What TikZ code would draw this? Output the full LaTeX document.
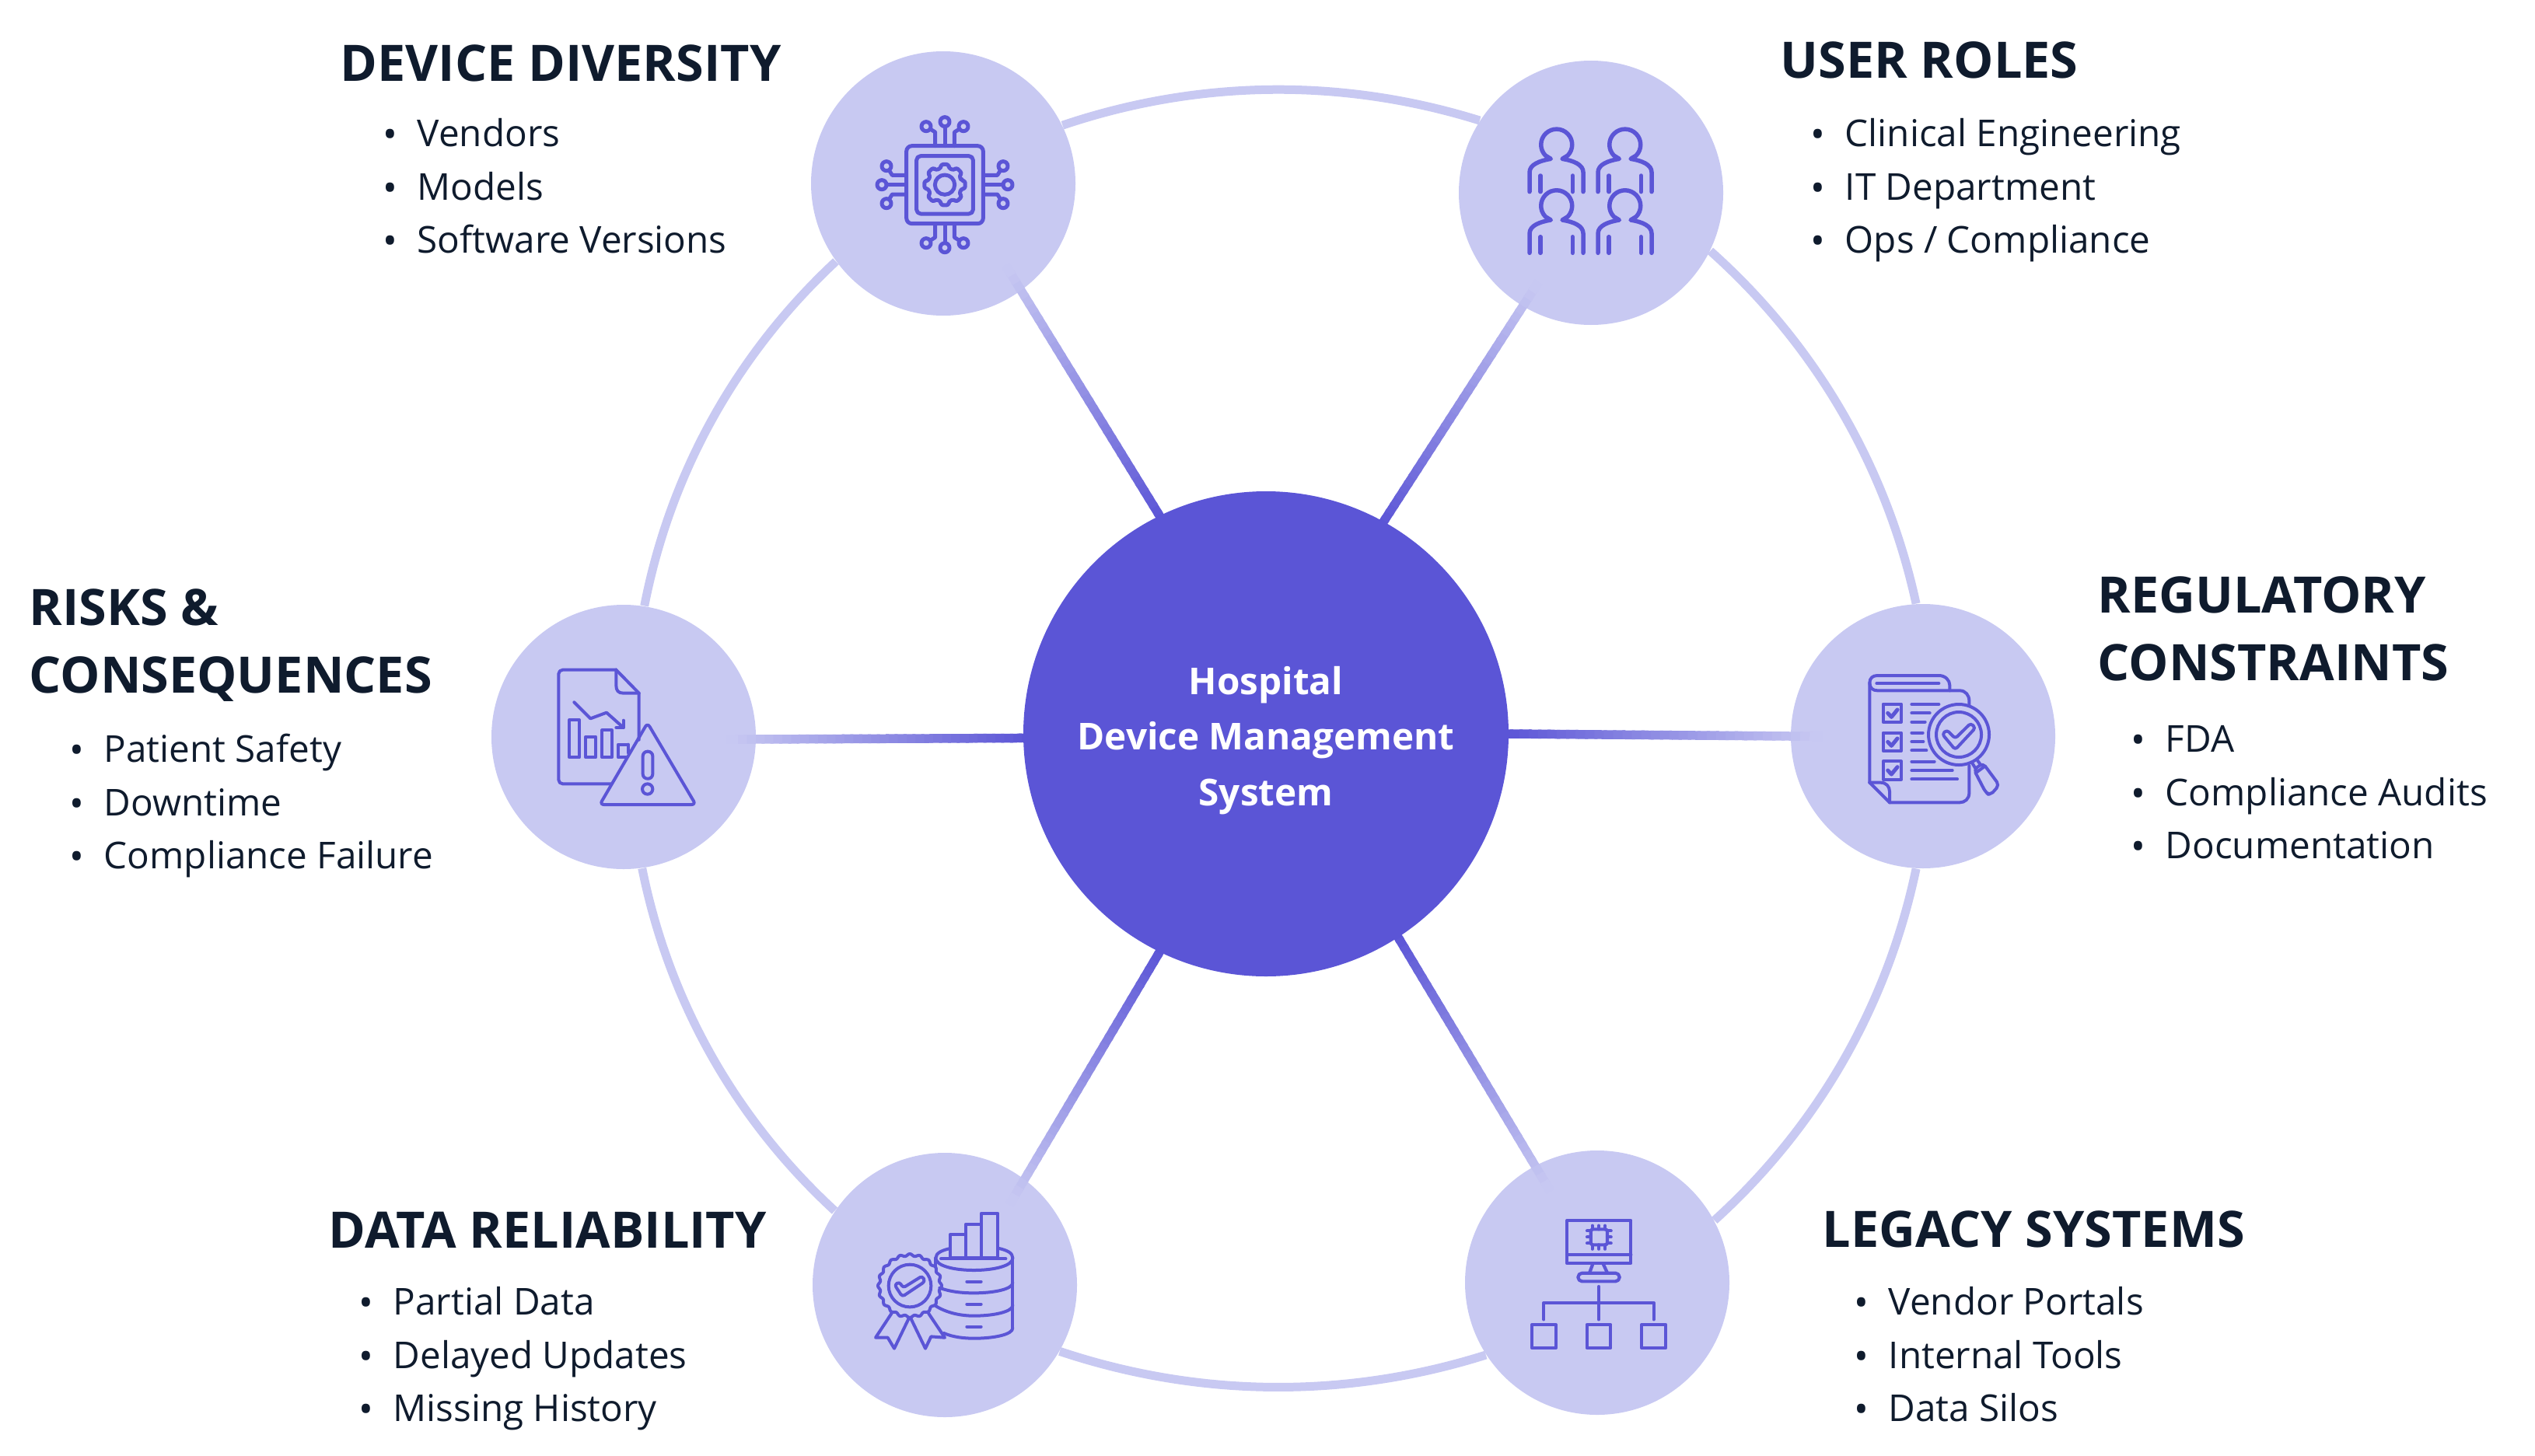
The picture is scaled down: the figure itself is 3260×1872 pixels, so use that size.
\documentclass[tikz,border=0pt]{standalone}
\usepackage{fontspec}
\usepackage{tikz}
\usetikzlibrary{positioning,calc}
\setmainfont{Open Sans}
\definecolor{hubcol}{HTML}{5B55D6}
\definecolor{satcol}{HTML}{C8C9F2}
\definecolor{inkcol}{HTML}{0F1B2D}
\newcommand{\bulletrow}[1]{\rule{0pt}{4mm}\makebox[7mm][c]{\raisebox{-.2mm}{\scalebox{1.05}{\textbullet}}}#1}

\begin{document}
\begin{tikzpicture}[
        x=.1mm, y=-.1mm,
        hubnode/.style={circle, fill=hubcol, inner sep=0pt, minimum size=62.4mm, text=white, align=center,
            font=\fontsize{13.55}{20.4}\selectfont\bfseries},
        sat/.style={circle, fill=satcol, inner sep=0pt, minimum size=34mm},
        ringline/.style={draw=satcol, line width=1.1mm, bend left=18, looseness=.88},
        titlebox/.style={inner sep=0pt, anchor=south west, align=left, text=inkcol,
            font=\fontsize{18.4}{24.7}\selectfont\bfseries},
        listbox/.style={inner sep=0pt, align=left, text=inkcol, font=\fontsize{13.55}{19.5}\selectfont},
        icon/.style={x=.0333333mm, y=-.0333333mm},
        iconline/.style={draw=hubcol, line width=.5mm, line join=round, line cap=round},
        thinline/.style={draw=hubcol, line width=.4mm, line join=round, line cap=round},
        midline/.style={draw=hubcol, line width=.42mm, line join=round, line cap=round}
    ]
        \useasboundingbox (0,0) rectangle (3260,1872);

        % circles
        \node[hubnode] (hub) at (1628,944) {\rule{0pt}{5.3mm}Hospital\\Device Management\\System};
        \node[sat] (device) at (1213,236) {};
        \node[sat] (users) at (2046,248) {};
        \node[sat] (regulatory) at (2473,947) {};
        \node[sat] (legacy) at (2054,1650) {};
        \node[sat] (reliability) at (1215,1653) {};
        \node[sat] (risks) at (802,948) {};

        % outer ring
        \draw[ringline] (device.26) to (users.147);
        \draw[ringline] (users.-26) to (regulatory.93);
        \draw[ringline] (regulatory.267) to (legacy.28);
        \draw[ringline] (legacy.213) to (reliability.-30);
        \draw[ringline] (reliability.146) to (risks.-82);
        \draw[ringline] (risks.81.5) to (device.216.6);

        % spokes, dark at the hub
        \foreach \a/\b in {hub.116/device.-54, hub.61/users.-121, hub.0/regulatory.180,
                hub.-57.6/legacy.118, hub.-116/reliability.53, hub.181/risks.-1} {
            \foreach \p in {100,97,...,1} {
                \pgfmathsetmacro\t{-.03+1.11*(1-\p/100)}
                \pgfmathsetmacro\u{\t+.045}
                \draw[draw=hubcol!\p!satcol, line width=1.15mm] ($(\a)!\t!(\b)$) -- ($(\a)!\u!(\b)$);
            }
        }

        % titles and lists
        \node[titlebox] (devicetitle) at (437,106) {DEVICE DIVERSITY};
        \node[listbox, below right=4.2mm and 2.9mm of devicetitle.south west] (devicelist)
            {\bulletrow{Vendors}\\\bulletrow{Models}\\\bulletrow{Software Versions}};
        \node[titlebox] (userstitle) at (2289,102) {USER ROLES};
        \node[listbox, below right=4.6mm and 1.3mm of userstitle.south west] (userslist)
            {\bulletrow{Clinical Engineering}\\\bulletrow{IT Department}\\\bulletrow{Ops / Compliance}};
        \node[titlebox] (riskstitle) at (37,903) {RISKS \&\\CONSEQUENCES};
        \node[listbox, below right=3.7mm and 2.6mm of riskstitle.south west] (riskslist)
            {\bulletrow{Patient Safety}\\\bulletrow{Downtime}\\\bulletrow{Compliance Failure}};
        \node[titlebox] (regulatorytitle) at (2697,877) {REGULATORY\\CONSTRAINTS};
        \node[listbox, below right=5mm and 1.7mm of regulatorytitle.south west] (regulatorylist)
            {\bulletrow{FDA}\\\bulletrow{Compliance Audits}\\\bulletrow{Documentation}};
        \node[titlebox] (reliabilitytitle) at (422,1606) {DATA RELIABILITY};
        \node[listbox, below right=4.5mm and 1.3mm of reliabilitytitle.south west] (reliabilitylist)
            {\bulletrow{Partial Data}\\\bulletrow{Delayed Updates}\\\bulletrow{Missing History}};
        \node[titlebox] (legacytitle) at (2343,1606) {LEGACY SYSTEMS};
        \node[listbox, below right=4.5mm and 1.5mm of legacytitle.south west] (legacylist)
            {\bulletrow{Vendor Portals}\\\bulletrow{Internal Tools}\\\bulletrow{Data Silos}};

        % chip icon
        \begin{scope}[shift={(1040,60)}, icon]
            \draw[iconline, rounded corners=2pt] (377,383) rectangle (673,683);
            \draw[iconline, rounded corners=1.5pt] (416,422) rectangle (634,645);
            \draw[iconline] (525,533) circle (38);
            \draw[iconline, rounded corners=.8pt] ([shift={(525,533)}]-13:66) \foreach \g in {0,45,...,315} {
                -- ([shift={(525,533)}]\g-13:66) -- ([shift={(525,533)}]\g-11:80) -- ([shift={(525,533)}]\g+11:80) -- ([shift={(525,533)}]\g+13:66)
                } -- cycle;
            \foreach \r in {0,90,180,270} {
                \begin{scope}[rotate around={\r:(525,533)}]
                    \draw[iconline] (525,290) circle (18);
                    \draw[iconline] (453,308) circle (18);
                    \draw[iconline] (597,308) circle (18);
                    \draw[iconline] (525,308) -- (525,383);
                    \draw[iconline] (472,320) -- (488,330) -- (488,383);
                    \draw[iconline] (578,320) -- (562,330) -- (562,383);
                \end{scope}
            }
        \end{scope}

        % people icon
        \begin{scope}[shift={(1880,80)}, icon]
            \foreach \dx/\dy in {0/0, 264/0, 0/236, 264/236} {
                \begin{scope}[shift={(\dx,\dy)}]
                    \draw[iconline, line width=.55mm] (261,500) -- (261,425) .. controls (261,395) and (300,380) .. (343,373)
                        -- (322,360) arc[start angle=136, end angle=404, radius=60] -- (387,373)
                        .. controls (430,380) and (468,395) .. (468,425) -- (468,500);
                    \draw[iconline, line width=.55mm] (303,438) -- (303,500);
                    \draw[iconline, line width=.55mm] (427,438) -- (427,500);
                \end{scope}
            }
        \end{scope}

        % report and warning icon
        \begin{scope}[shift={(630,780)}, icon]
            \draw[thinline, rounded corners=1.5pt] (470,685) -- (265,685) -- (265,245) -- (487,245);
            \draw[thinline] (487,245) -- (575,335) -- (575,515);
            \draw[thinline] (487,245) -- (487,305) .. controls (487,325) and (495,335) .. (515,335) -- (575,335);
            \draw[thinline] (325,370) -- (388,433) -- (450,410) -- (515,468);
            \draw[thinline] (487,468) -- (515,468) -- (515,440);
            \draw[thinline] (307,438) rectangle (345,583);
            \draw[thinline] (370,503) rectangle (408,583);
            \draw[thinline] (433,478) rectangle (470,583);
            \draw[thinline] (533,533) -- (495,533) -- (495,583) -- (525,583);
            \draw[thinline] (533,533) -- (533,565);
            \draw[thinline, rounded corners=1.5pt] (608,450) -- (794,765) -- (424,765) -- cycle;
            \draw[thinline, rounded corners=1.7pt] (590,560) rectangle (628,665);
            \draw[thinline] (608,705) circle (20);
        \end{scope}

        % checklist and magnifier icon
        \begin{scope}[shift={(2305,775)}, icon]
            \draw[thinline] (298,695) -- (298,310) .. controls (298,292) and (310,282) .. (328,282) -- (565,282)
                .. controls (590,282) and (607,300) .. (607,320) -- (607,340);
            \draw[thinline] (298,310) .. controls (298,330) and (310,340) .. (328,340) -- (645,340)
                .. controls (668,340) and (682,358) .. (682,380) -- (682,397);
            \draw[thinline] (682,630) -- (682,735) .. controls (682,758) and (665,772) .. (645,772) -- (375,772) -- (298,695);
            \draw[thinline] (298,695) -- (340,695) .. controls (362,695) and (375,710) .. (375,730) -- (375,772);
            \draw[thinline] (325,312) -- (565,312);
            \foreach \y in {392,503,613} {
                \draw[thinline] (350,\y) rectangle (420,\y+70);
                \draw[iconline] (368,\y+35) -- (382,\y+50) -- (405,\y+22);
            }
            \foreach \y/\xb in {393/565, 427/530, 461/512, 503/503, 537/505, 571/517, 614/548, 648/617, 682/636} {
                \draw[thinline] (460,\y) -- (\xb,\y);
            }
            \draw[thinline] (642,510) circle (117);
            \draw[thinline] (642,510) circle (87);
            \draw[thinline, rounded corners=1pt] (578,508) -- (596,492) -- (628,525) -- (688,466) -- (706,484) -- (628,568) -- cycle;
            \draw[thinline] (695,622) -- (706,640);
            \draw[thinline] (714,610) -- (726,626);
            \draw[thinline, rounded corners=1.5pt] (700,645) -- (735,620) -- (798,705) -- (762,745) -- (745,732) -- cycle;
            \draw[thinline] (707,658) -- (742,632);
        \end{scope}

        % badge and database icon
        \begin{scope}[shift={(1040,1480)}, icon]
            \draw[thinline] plot[domain=0:360, samples=217] ({390+(119+4*cos(20*\x))*cos(\x)}, {522+(119+4*cos(20*\x))*sin(\x)});
            \draw[thinline] (390,522) circle (82);
            \draw[thinline, rounded corners=1pt] (331,518) -- (350,507) -- (364,530) -- (438,484) -- (449,505) -- (361,564) -- cycle;
            \draw[thinline] (320,628) -- (258,722) -- (305,722) -- (330,764) -- (385,650);
            \draw[thinline] (395,650) -- (450,764) -- (472,718) -- (525,722) -- (462,628);
            \draw[thinline] (545,378) .. controls (515,385) and (490,395) .. (490,415) .. controls (490,445) and (560,462) .. (637,462)
                .. controls (715,462) and (787,445) .. (787,415) .. controls (787,395) and (765,385) .. (735,378);
            \draw[thinline] (787,415) -- (787,685);
            \draw[thinline] (490,415) -- (490,450);
            \draw[thinline] (505,530) .. controls (545,545) and (590,550) .. (637,550) .. controls (715,550) and (787,535) .. (787,510);
            \draw[thinline] (490,600) .. controls (535,628) and (590,638) .. (637,638) .. controls (715,638) and (787,622) .. (787,597);
            \draw[thinline] (522,705) .. controls (555,720) and (600,725) .. (637,725) .. controls (715,725) and (787,710) .. (787,685);
            \foreach \y in {506,593,680} {
                \draw[thinline] (610,\y) -- (665,\y);
            }
            \draw[thinline] (545,415) rectangle (605,325);
            \draw[thinline] (605,415) rectangle (665,285);
            \draw[thinline] (665,415) rectangle (730,243);
            \draw[thinline] (510,418) -- (760,418);
        \end{scope}

        % monitor and tree icon
        \begin{scope}[shift={(1890,1480)}, icon]
            \draw[midline] (375,270) rectangle (622,435);
            \draw[midline] (375,402) -- (622,402);
            \draw[midline, rounded corners=.8pt] (467,304) rectangle (531,364);
            \foreach \k in {473,498,522} {
                \draw[midline] (\k,290) -- (\k,304);
                \draw[midline] (\k,364) -- (\k,380);
            }
            \foreach \k in {310,334,358} {
                \draw[midline] (453,\k) -- (467,\k);
                \draw[midline] (531,\k) -- (545,\k);
            }
            \draw[midline] (474,440) -- (463,470);
            \draw[midline] (516,440) -- (530,470);
            \draw[midline, rounded corners=1.5pt] (418,505) -- (418,473) -- (578,473) -- (578,505) -- cycle;
            \draw[midline] (498,525) -- (498,652);
            \draw[midline] (286,652) -- (286,588) -- (710,588) -- (710,652);
            \foreach \k in {240,452,664} {
                \draw[midline] (\k,672) rectangle (\k+92,762);
            }
        \end{scope}
    \end{tikzpicture}
\end{document}
